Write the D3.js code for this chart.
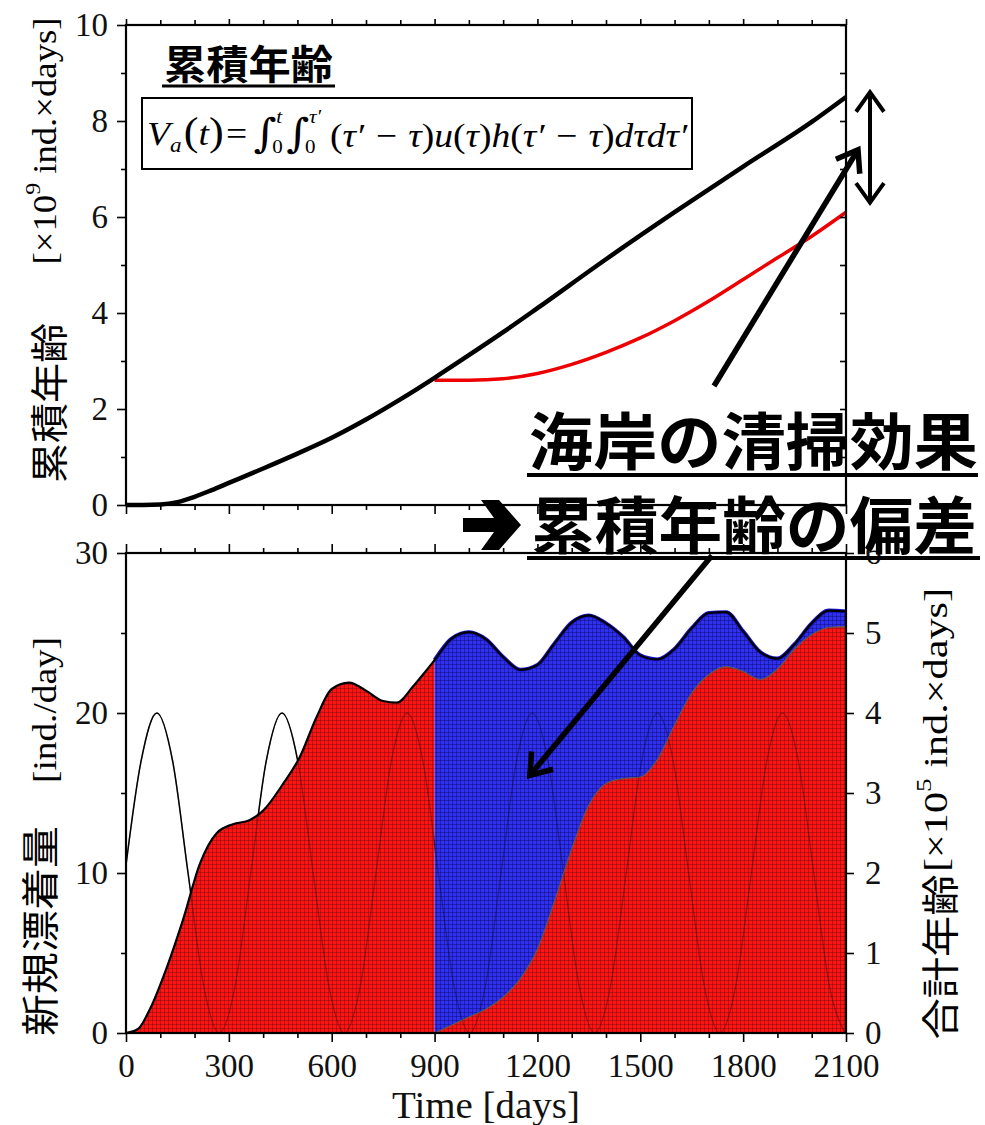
<!DOCTYPE html>
<html>
<head>
<meta charset="utf-8">
<script src="https://cdn.jsdelivr.net/npm/d3@7"></script>
<style>
  body { margin: 0; background: #fff; }
</style>
</head>
<body>
<div id="chart"></div>
<script>
// ---- data ----
// top panel: cumulative age [x10^9 ind.xdays]
var tTop = [0, 50, 100, 150, 200, 250, 300, 400, 500, 600, 700, 800, 900, 1000, 1100, 1200, 1400, 1600, 1800, 2000, 2100];
var ageTotal = [0, 0, 0.01, 0.06, 0.17, 0.31, 0.46, 0.76, 1.07, 1.4, 1.78, 2.2, 2.65, 3.12, 3.6, 4.1, 5.12, 6.1, 7.05, 7.98, 8.5];
var tTopClean = [900, 1000, 1100, 1200, 1300, 1400, 1500, 1600, 1700, 1800, 1900, 2000, 2100];
var ageClean = [2.6, 2.6, 2.63, 2.74, 2.93, 3.18, 3.48, 3.84, 4.25, 4.7, 5.15, 5.6, 6.1];

// bottom panel: new stranding [ind./day]
var tInput = [0, 44, 90, 136, 181, 227, 272, 318, 364, 409, 455, 501, 546, 592, 637, 683, 729, 774, 820, 866, 911, 957,
  1002, 1048, 1094, 1139, 1185, 1231, 1276, 1322, 1367, 1413, 1459, 1504, 1550, 1596, 1641, 1687, 1732, 1778, 1824,
  1869, 1915, 1961, 2006, 2052, 2097];
var inputVal = [10.5, 17, 20, 17, 10, 2.9, 0, 2.9, 10, 17, 20, 17, 10, 2.9, 0, 2.9, 10, 17, 20, 17, 10, 2.9,
  0, 2.9, 10, 17, 20, 17, 10, 2.9, 0, 2.9, 10, 17, 20, 17, 10, 2.9, 0, 2.9, 10,
  17, 20, 17, 10, 2.9, 0];

// bottom panel: total age [x10^5 ind.xdays], before cleaning
var tBefore = [0, 35, 70, 120, 166, 216, 265, 312, 360, 400, 459, 507, 556, 600, 650, 700, 750, 790, 837, 870, 900];
var sumBefore = [0, 0.05, 0.3, 0.83, 1.41, 2.12, 2.5, 2.61, 2.66, 2.78, 3.12, 3.45, 3.95, 4.3, 4.38, 4.28, 4.15, 4.13, 4.33, 4.5, 4.66];
// after cleaning starts (day 900)
var tAfter = [900, 950, 1000, 1050, 1100, 1150, 1200, 1250, 1300, 1350, 1400, 1450, 1500, 1550, 1600, 1650, 1700,
  1750, 1800, 1850, 1900, 1950, 2000, 2050, 2100];
var sumNoClean = [4.66, 4.93, 5.01, 4.92, 4.7, 4.54, 4.6, 4.87, 5.13, 5.22, 5.12, 4.95, 4.72, 4.67, 4.8, 5.06, 5.25,
  5.26, 5.02, 4.76, 4.68, 4.86, 5.12, 5.28, 5.27];
var sumClean = [0, 0.1, 0.2, 0.3, 0.45, 0.68, 1.05, 1.65, 2.3, 2.85, 3.12, 3.18, 3.2, 3.42, 3.85, 4.25, 4.48,
  4.58, 4.52, 4.42, 4.55, 4.8, 4.98, 5.07, 5.08];

var xMajor = [0, 300, 600, 900, 1200, 1500, 1800, 2100];
var xMinor = [100, 200, 400, 500, 700, 800, 1000, 1100, 1300, 1400, 1600, 1700, 1900, 2000];
var yTopMajor = [0, 2, 4, 6, 8, 10];
var yTopMinor = [1, 3, 5, 7, 9];
var yBotMajor = [0, 10, 20, 30];
var yBotMinor = [5, 15, 25];
var yRightTicks = [0, 1, 2, 3, 4, 5, 6];

// annotation arrows, in data units of the panels
var arrowUp = {t0: 1715, v0: 2.48, t1: 2135, v1: 7.4};        // top panel
var arrowSpan = {t: 2170, v0: 8.6, v1: 6.3};                   // top panel, double head
var arrowDown = {t0: 1709, v0: 5.97, t1: 1178, v1: 3.22};      // bottom panel, right scale

var serif = "Liberation Serif, Times New Roman, serif";
var cjk = "Noto Sans CJK JP, sans-serif";

var svg = d3.select("#chart").append("svg")
  .attr("width", 985)
  .attr("height", 1125);

var x = d3.scaleLinear().domain([0, 2100]).range([126, 846]);
var yTop = d3.scaleLinear().domain([0, 10]).range([505, 25]);
var yBot = d3.scaleLinear().domain([0, 30]).range([1033, 553]);
var yRight = d3.scaleLinear().domain([0, 6]).range([1033, 553]);

// hatched fills
var defs = svg.append("defs");
function makePattern(id, base, line) {
  var p = defs.append("pattern").attr("id", id)
    .attr("width", 4).attr("height", 4).attr("patternUnits", "userSpaceOnUse");
  p.append("rect").attr("width", 4).attr("height", 4).attr("fill", base);
  p.append("path").attr("d", "M0 0.5H4M0.5 0V4")
    .attr("stroke", line).attr("stroke-width", 1).attr("stroke-opacity", 0.45);
}
makePattern("redHatch", "#ff1414", "#701010");
makePattern("blueHatch", "#3030f0", "#0c0c66");

defs.append("clipPath").attr("id", "botClip")
  .append("rect").attr("x", 126).attr("y", 553).attr("width", 724).attr("height", 480);

function zip(ts, vs) { return ts.map(function(t, i) { return {t: t, v: vs[i]}; }); }

function styleAxis(g, size) {
  g.select(".domain").remove();
  g.selectAll("line").attr("stroke", "#000").attr("stroke-width", 1.6);
  g.selectAll("text").attr("font-family", serif).attr("font-size", size).attr("fill", "#111");
}

function addAxis(gen, tx, ty, size) {
  var g = svg.append("g").attr("transform", "translate(" + tx + "," + ty + ")").call(gen);
  styleAxis(g, size || 33);
  return g;
}

// ================= top panel =================
var lineTop = d3.line()
  .x(function(d) { return x(d.t); })
  .y(function(d) { return yTop(d.v); })
  .curve(d3.curveMonotoneX);

svg.append("path")
  .datum(zip(tTopClean, ageClean))
  .attr("d", lineTop)
  .attr("fill", "none")
  .attr("stroke", "#ee0000")
  .attr("stroke-width", 3.5);

svg.append("path")
  .datum(zip(tTop, ageTotal))
  .attr("d", lineTop)
  .attr("fill", "none")
  .attr("stroke", "#000")
  .attr("stroke-width", 4.5);

addAxis(d3.axisLeft(yTop).tickValues(yTopMajor).tickSize(9).tickPadding(9).tickFormat(d3.format("d")), 126, 0);
addAxis(d3.axisLeft(yTop).tickValues(yTopMinor).tickSize(5).tickFormat(""), 126, 0);
addAxis(d3.axisRight(yTop).tickValues(d3.range(0, 11)).tickSize(-6).tickFormat(""), 846, 0);
addAxis(d3.axisBottom(x).tickValues(xMajor).tickSize(9).tickFormat(""), 0, 505);
addAxis(d3.axisBottom(x).tickValues(xMinor).tickSize(5).tickFormat(""), 0, 505);
addAxis(d3.axisTop(x).tickValues(xMajor).tickSize(6).tickFormat(""), 0, 25);
addAxis(d3.axisTop(x).tickValues(xMinor).tickSize(5).tickFormat(""), 0, 25);

svg.append("rect")
  .attr("x", 126).attr("y", 25).attr("width", 720).attr("height", 480)
  .attr("fill", "none").attr("stroke", "#000").attr("stroke-width", 2.2);

// ================= bottom panel =================
var inputLine = d3.line()
  .x(function(d) { return x(d.t); })
  .y(function(d) { return yBot(d.v); })
  .curve(d3.curveMonotoneX);

var plot = svg.append("g").attr("clip-path", "url(#botClip)");

plot.append("path")
  .datum(zip(tInput, inputVal))
  .attr("d", inputLine)
  .attr("fill", "none")
  .attr("stroke", "#000")
  .attr("stroke-width", 1.5);

var areaSum = d3.area()
  .x(function(d) { return x(d.t); })
  .y0(yRight(0))
  .y1(function(d) { return yRight(d.v); })
  .curve(d3.curveMonotoneX);

var afterData = tAfter.map(function(t, i) { return {t: t, lo: sumClean[i], hi: sumNoClean[i]}; });

plot.append("path")
  .datum(zip(tBefore, sumBefore))
  .attr("d", areaSum)
  .attr("fill", "url(#redHatch)");

plot.append("path")
  .datum(afterData)
  .attr("d", d3.area()
    .x(function(d) { return x(d.t); })
    .y0(function(d) { return yRight(d.lo); })
    .y1(function(d) { return yRight(d.hi); })
    .curve(d3.curveMonotoneX))
  .attr("fill", "url(#blueHatch)");

plot.append("path")
  .datum(zip(tAfter, sumClean))
  .attr("d", areaSum)
  .attr("fill", "url(#redHatch)");

// input curve seen faintly through the fills
plot.append("path")
  .datum(zip(tInput, inputVal))
  .attr("d", inputLine)
  .attr("fill", "none")
  .attr("stroke", "#000")
  .attr("stroke-opacity", 0.3)
  .attr("stroke-width", 1.3);

var sumLine = d3.line()
  .x(function(d) { return x(d.t); })
  .y(function(d) { return yRight(d.v); })
  .curve(d3.curveMonotoneX);

plot.append("path")
  .datum(zip(tAfter, sumClean))
  .attr("d", sumLine)
  .attr("fill", "none")
  .attr("stroke", "#555")
  .attr("stroke-width", 1.2);

plot.append("path")
  .datum(zip(tAfter, sumNoClean))
  .attr("d", sumLine)
  .attr("fill", "none")
  .attr("stroke", "#1818d0")
  .attr("stroke-width", 4);

plot.append("path")
  .datum(zip(tBefore, sumBefore).concat(zip(tAfter, sumNoClean).slice(1)))
  .attr("d", sumLine)
  .attr("fill", "none")
  .attr("stroke", "#000")
  .attr("stroke-width", 2.2);

addAxis(d3.axisLeft(yBot).tickValues(yBotMajor).tickSize(9).tickPadding(9).tickFormat(d3.format("d")), 126, 0);
addAxis(d3.axisLeft(yBot).tickValues(yBotMinor).tickSize(5).tickFormat(""), 126, 0);
addAxis(d3.axisRight(yRight).tickValues(yRightTicks).tickSize(8).tickPadding(11).tickFormat(d3.format("d")), 846, 0);
addAxis(d3.axisBottom(x).tickValues(xMajor).tickSize(9).tickPadding(12).tickFormat(d3.format("d")), 0, 1033);
addAxis(d3.axisBottom(x).tickValues(xMinor).tickSize(5).tickFormat(""), 0, 1033);
addAxis(d3.axisTop(x).tickValues(xMajor).tickSize(9).tickFormat(""), 0, 553);
addAxis(d3.axisTop(x).tickValues(xMinor).tickSize(5).tickFormat(""), 0, 553);

svg.append("rect")
  .attr("x", 126).attr("y", 553).attr("width", 720).attr("height", 480)
  .attr("fill", "none").attr("stroke", "#000").attr("stroke-width", 2.2);

// ================= axis titles =================
function fit(sel, len) {
  return sel.attr("textLength", len).attr("lengthAdjust", "spacingAndGlyphs");
}

function vTitle(cx, cy, family, size, len) {
  var t = svg.append("text")
    .attr("transform", "translate(" + cx + "," + cy + ") rotate(-90)")
    .attr("text-anchor", "middle")
    .attr("dominant-baseline", "central")
    .attr("font-family", family)
    .attr("font-size", size)
    .attr("fill", "#000");
  return fit(t, len);
}

function unitTitle(cx, cy, pow, len) {
  var t = vTitle(cx, cy, serif, 34, len);
  t.append("tspan").text("[×10");
  t.append("tspan").attr("font-size", 22).attr("dy", -12).text(pow);
  t.append("tspan").attr("dy", 12).text(" ind.×days]");
  return t;
}

vTitle(46, 403, cjk, 38, 160).text("累積年齢");
unitTitle(44, 141, "9", 247);
vTitle(37, 931, cjk, 38, 210).text("新規漂着量");
vTitle(44, 710, serif, 34, 146).text("[ind./day]");
vTitle(937, 957, cjk, 38, 165).text("合計年齢");
unitTitle(935, 730, "5", 284);

fit(svg.append("text")
  .attr("x", 486).attr("y", 1118)
  .attr("text-anchor", "middle")
  .attr("font-family", serif)
  .attr("font-size", 38)
  .attr("fill", "#111")
  .text("Time [days]"), 188);

// ================= annotations =================
// heading and formula box
fit(svg.append("text")
  .attr("x", 164).attr("y", 79)
  .attr("font-family", cjk).attr("font-weight", 700).attr("font-size", 40)
  .text("累積年齢"), 169);
svg.append("line").attr("x1", 162).attr("x2", 335).attr("y1", 86).attr("y2", 86)
  .attr("stroke", "#000").attr("stroke-width", 3);

svg.append("rect")
  .attr("x", 142).attr("y", 98).attr("width", 550).attr("height", 71)
  .attr("fill", "#fff").attr("stroke", "#000").attr("stroke-width", 2);

// formula: V_a(t) = ∫0^t ∫0^τ' (τ'−τ) u(τ) h(τ'−τ) dτ dτ'
var fg = svg.append("g");
var f = fg.append("text")
  .attr("font-family", serif).attr("font-size", 34).attr("fill", "#000");
f.append("tspan").attr("font-style", "italic").text("V");
f.append("tspan").attr("font-style", "italic").attr("font-size", 21).attr("dy", 7).text("a");
f.append("tspan").attr("font-size", 40).attr("dy", -7).attr("dx", 2).text("(");
f.append("tspan").attr("font-style", "italic").text("t");
f.append("tspan").attr("font-size", 40).text(")");
f.append("tspan").attr("dx", 2).text("=");
f.append("tspan").attr("dx", 6).attr("font-family", "DejaVu Serif").attr("font-size", 40).attr("dy", 2).text("∫");
f.append("tspan").attr("font-size", 19).attr("dy", 6).attr("dx", -4).text("0");
f.append("tspan").attr("font-style", "italic").attr("font-size", 19).attr("dy", -30).attr("dx", -6).text("t");
f.append("tspan").attr("dx", 4).attr("dy", 24).attr("font-family", "DejaVu Serif").attr("font-size", 40).text("∫");
f.append("tspan").attr("font-size", 19).attr("dy", 6).attr("dx", -4).text("0");
f.append("tspan").attr("font-style", "italic").attr("font-size", 19).attr("dy", -30).attr("dx", -6).text("τ′");
f.append("tspan").attr("dy", 24).attr("dx", 8).text("(");
f.append("tspan").attr("font-style", "italic").text("τ′ − τ");
f.append("tspan").text(")");
f.append("tspan").attr("font-style", "italic").text("u");
f.append("tspan").text("(");
f.append("tspan").attr("font-style", "italic").text("τ");
f.append("tspan").text(")");
f.append("tspan").attr("font-style", "italic").text("h");
f.append("tspan").text("(");
f.append("tspan").attr("font-style", "italic").text("τ′ − τ");
f.append("tspan").text(")");
f.append("tspan").attr("font-style", "italic").text("dτdτ′");
var fw = f.node().getBBox().width;
fg.attr("transform", "translate(147,145) scale(" + (541 / fw) + ",1)");

// arrows
function arrowHead(g, x0, y0, x1, y1, len, w) {
  var a = Math.atan2(y1 - y0, x1 - x0);
  var spread = 0.62;
  var p = [
    [x1 - len * Math.cos(a - spread), y1 - len * Math.sin(a - spread)],
    [x1, y1],
    [x1 - len * Math.cos(a + spread), y1 - len * Math.sin(a + spread)]
  ];
  g.append("path").attr("d", d3.line()(p))
    .attr("fill", "none").attr("stroke", "#000").attr("stroke-width", w)
    .attr("stroke-linejoin", "miter");
}

function arrow(x0, y0, x1, y1, w, both) {
  var g = svg.append("g");
  g.append("line").attr("x1", x0).attr("y1", y0).attr("x2", x1).attr("y2", y1)
    .attr("stroke", "#000").attr("stroke-width", w);
  arrowHead(g, x0, y0, x1, y1, 24, w);
  if (both) arrowHead(g, x1, y1, x0, y0, 24, w);
}

arrow(x(arrowUp.t0), yTop(arrowUp.v0), x(arrowUp.t1), yTop(arrowUp.v1), 5.5, false);
arrow(x(arrowSpan.t), yTop(arrowSpan.v0), x(arrowSpan.t), yTop(arrowSpan.v1), 4, true);
arrow(x(arrowDown.t0), yRight(arrowDown.v0), x(arrowDown.t1), yRight(arrowDown.v1), 5.5, false);

// big captions
fit(svg.append("text")
  .attr("x", 529).attr("y", 465)
  .attr("font-family", cjk).attr("font-weight", 700).attr("font-size", 62)
  .text("海岸の清掃効果"), 449);
svg.append("line").attr("x1", 527).attr("x2", 978).attr("y1", 475).attr("y2", 475)
  .attr("stroke", "#000").attr("stroke-width", 4);

// heavy right arrow in front of the second line
svg.append("path")
  .attr("d", "M463,518 H494 L481,500 H499 L521,525 L499,550 H481 L494,532 H463 Z")
  .attr("fill", "#000");
fit(svg.append("text")
  .attr("x", 531).attr("y", 549)
  .attr("font-family", cjk).attr("font-weight", 700).attr("font-size", 62)
  .text("累積年齢の偏差"), 446);
svg.append("line").attr("x1", 527).attr("x2", 980).attr("y1", 558).attr("y2", 558)
  .attr("stroke", "#000").attr("stroke-width", 4);
</script>
</body>
</html>
